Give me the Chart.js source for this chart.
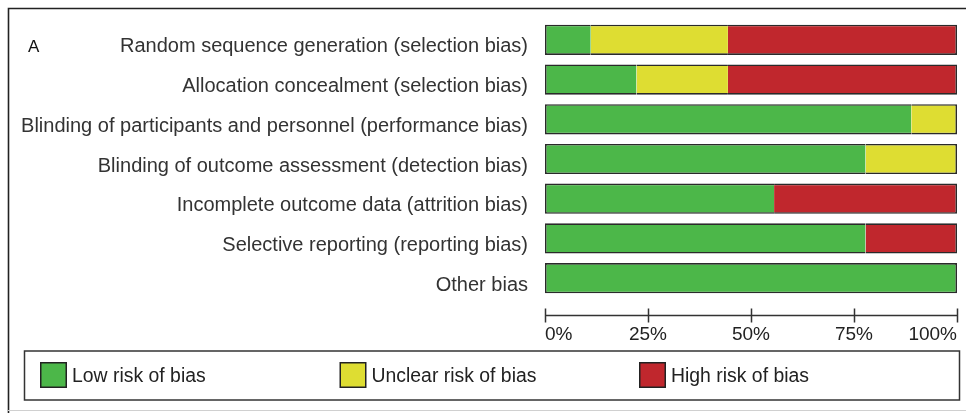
<!DOCTYPE html>
<html>
<head>
<meta charset="utf-8">
<script src="https://cdn.jsdelivr.net/npm/chart.js@4"></script>
<style>
  html, body { margin: 0; padding: 0; background: #fff; }
  #wrap { position: relative; width: 966px; height: 413px; }
</style>
</head>
<body>
<div id="wrap"><canvas id="bias-chart"></canvas></div>
<script>
// data (percent of studies)
const categories = [
  'Random sequence generation (selection bias)',
  'Allocation concealment (selection bias)',
  'Blinding of participants and personnel (performance bias)',
  'Blinding of outcome assessment (detection bias)',
  'Incomplete outcome data (attrition bias)',
  'Selective reporting (reporting bias)',
  'Other bias'
]
const lowRisk = [11.1, 22.2, 88.9, 77.8, 55.6, 77.8, 100]
const unclearRisk = [33.3, 22.2, 11.1, 22.2, 0, 0, 0]
const highRisk = [55.6, 55.6, 0, 0, 44.4, 22.2, 0]
const seriesNames = ['Low risk of bias', 'Unclear risk of bias', 'High risk of bias']
const tickValues = [0, 25, 50, 75, 100]
const panelLabel = 'A'

const FONT = "'Liberation Sans', Arial, sans-serif"
Chart.defaults.font.family = FONT

// one outline round the whole stacked bar, no lines between segments
const edge = 1.6
const segBorder = (ctx) => {
  const i = ctx.dataIndex
  const d = ctx.datasetIndex
  const sets = ctx.chart.data.datasets
  if (!(sets[d].data[i] > 0)) return 0
  const before = sets.slice(0, d).some(s => s.data[i] > 0)
  const after = sets.slice(d + 1).some(s => s.data[i] > 0)
  return { top: edge, bottom: edge, left: before ? 0 : edge, right: after ? 0 : edge }
}

// frame, axis line with crossing ticks, panel letter and boxed legend
const decorations = {
  id: 'decorations',
  afterDraw(chart) {
    const c = chart.ctx
    const x = chart.scales.x
    const area = chart.chartArea
    c.save()

    // outer frame
    c.strokeStyle = '#222'
    c.lineWidth = 1.6
    c.beginPath()
    c.moveTo(8.5, 413)
    c.lineTo(8.5, 8.5)
    c.lineTo(966, 8.5)
    c.stroke()
    c.strokeStyle = '#d0d0d0'
    c.lineWidth = 1
    c.beginPath()
    c.moveTo(8, 410.5)
    c.lineTo(966, 410.5)
    c.stroke()

    // panel letter
    c.fillStyle = '#111'
    c.font = '17px ' + FONT
    c.textBaseline = 'middle'
    c.textAlign = 'left'
    c.fillText(panelLabel, 28, 47)

    // x axis line and ticks
    const ay = area.bottom + 17.5
    c.strokeStyle = '#333'
    c.lineWidth = 1.5
    c.beginPath()
    c.moveTo(x.getPixelForValue(0), ay)
    c.lineTo(x.getPixelForValue(100), ay)
    tickValues.forEach(v => {
      const px = Math.round(x.getPixelForValue(v)) + 0.5
      c.moveTo(px, ay - 7)
      c.lineTo(px, ay + 7)
    })
    c.stroke()

    // legend box
    c.strokeStyle = '#333'
    c.lineWidth = 1.5
    c.strokeRect(24.5, 351, 935, 49)
    chart.data.datasets.forEach((ds, k) => {
      const sx = 40 + k * 299.5
      c.fillStyle = '#222'
      c.fillRect(sx, 362, 27, 26)
      c.fillStyle = ds.backgroundColor
      c.fillRect(sx + 1.5, 363.5, 24, 23)
      c.save()
      c.translate(sx + 32, 376)
      c.scale(0.97, 1)
      c.fillStyle = '#222'
      c.font = '20px ' + FONT
      c.textBaseline = 'middle'
      c.fillText(ds.label, 0, 0)
      c.restore()
    })
    c.restore()
  }
}

const data = {
  labels: categories,
  datasets: [
    { label: seriesNames[0], data: lowRisk, backgroundColor: '#4cb749' },
    { label: seriesNames[1], data: unclearRisk, backgroundColor: '#dedd32' },
    { label: seriesNames[2], data: highRisk, backgroundColor: '#c0272d' }
  ].map(ds => Object.assign(ds, {
    borderColor: '#2a2a2a',
    borderWidth: segBorder,
    borderSkipped: false,
    categoryPercentage: 1,
    barPercentage: 0.76
  }))
}

const options = {
  indexAxis: 'y',
  responsive: true,
  maintainAspectRatio: false,
  animation: false,
  layout: { padding: { left: 0, top: 20, right: 9, bottom: 0 } },
  plugins: {
    legend: { display: false },
    tooltip: { enabled: false }
  },
  scales: {
    x: {
      stacked: true,
      min: 0,
      max: 100,
      afterBuildTicks: (s) => { s.ticks = tickValues.map(v => ({ value: v })) },
      afterFit: (s) => {
        s.height = 115
        s.paddingLeft = 0
        s.paddingRight = 0
      },
      grid: { display: false, drawTicks: false },
      border: { display: false },
      ticks: {
        align: 'inner',
        padding: 25,
        color: '#222',
        font: { size: 19 },
        callback: (v) => v + '%'
      }
    },
    y: {
      stacked: true,
      afterFit: (s) => {
        s.width = 545
        s.paddingTop = 0
        s.paddingBottom = 0
      },
      grid: { display: false, drawTicks: false },
      border: { display: false },
      ticks: {
        padding: 17,
        labelOffset: 7,
        color: '#333',
        font: { size: 20 }
      }
    }
  }
}

const myChart = new Chart(document.getElementById('bias-chart'), {
  type: 'bar',
  data: data,
  options: options,
  plugins: [decorations]
})
</script>
</body>
</html>
